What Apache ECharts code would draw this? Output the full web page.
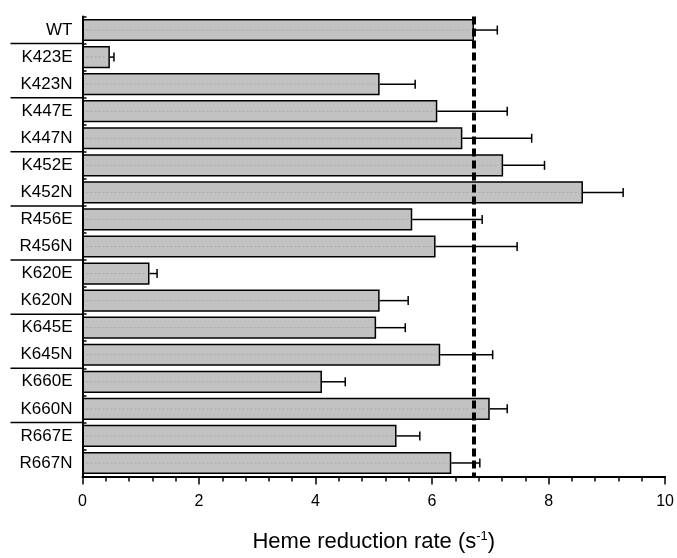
<!DOCTYPE html>
<html><head><meta charset="utf-8">
<script src="https://cdn.jsdelivr.net/npm/echarts@6/dist/echarts.min.js"></script>
<style>html,body{margin:0;padding:0;background:#fff}#c{width:677px;height:558px}</style>
</head><body><div id="c"></div>
<script>
const categories = ['WT','K423E','K423N','K447E','K447N','K452E','K452N','R456E','R456N','K620E','K620N','K645E','K645N','K660E','K660N','R667E','R667N'];
const values = [6.72,0.47,5.10,6.09,6.52,7.22,8.59,5.66,6.06,1.15,5.10,5.04,6.14,4.11,6.99,5.39,6.33];
const errors = [0.40,0.07,0.61,1.20,1.19,0.71,0.69,1.20,1.40,0.13,0.49,0.50,0.90,0.40,0.30,0.40,0.49];
const wtLine = 6.72;
const xTicks = [0,2,4,6,8,10];
</script>
<script>
const chart = echarts.init(document.getElementById('c'), null, {renderer:'canvas'});
const font = 'Liberation Sans, Arial, sans-serif';
const errData = values.map((v,i)=>[v,i,errors[i]]);
// group separators: before each category whose residue differs from the previous one
const sepData = [];
categories.forEach((c,i)=>{ if(i>0 && c.slice(0,4)!==categories[i-1].slice(0,4)) sepData.push([0,i]); });
chart.setOption({
  animation:false,
  grid:{left:82.5,right:10,top:16.5,bottom:74,containLabel:false},
  xAxis:{type:'value',min:xTicks[0],max:xTicks[xTicks.length-1],interval:xTicks[1]-xTicks[0],
    axisLine:{show:true,lineStyle:{color:'#000',width:2}},
    axisTick:{show:true,length:8,lineStyle:{color:'#000',width:1.5}},
    minorTick:{show:true,splitNumber:5,length:5,lineStyle:{color:'#000',width:1.5}},
    splitLine:{show:false},
    axisLabel:{color:'#000',fontSize:16,fontFamily:font,margin:17},
    name:'Heme reduction rate (s{sup|-1})',nameLocation:'middle',nameGap:53,
    nameTextStyle:{color:'#000',fontSize:22,fontFamily:font,
      rich:{sup:{fontSize:13,fontFamily:font,color:'#000',padding:[0,0,12,0]}}}
  },
  yAxis:{type:'category',data:categories,inverse:true,
    axisLine:{show:true,lineStyle:{color:'#000',width:2}},
    axisTick:{show:true,inside:true,length:4,lineStyle:{color:'#000',width:1.5}},
    axisLabel:{color:'#000',fontSize:17,fontFamily:font,margin:10}
  },
  series:[{type:'bar',data:values,barCategoryGap:'18%',
    itemStyle:{color:'#c2c2c2',borderColor:'#000',borderWidth:1.5},
    markLine:{silent:true,symbol:'none',label:{show:false},
      lineStyle:{color:'#000',width:4,type:[8,4]},data:[{xAxis:wtLine}]},
    z:2
  },{type:'custom',data:errData,z:3,
    renderItem:(params,api)=>{
      const v=api.value(0), c=api.value(1), e=api.value(2);
      const p0=api.coord([0,c]), p1=api.coord([v,c]), p2=api.coord([v+e,c]);
      return {type:'group',children:[
        {type:'line',shape:{x1:p0[0]+4,y1:p0[1],x2:p1[0]-4,y2:p1[1]},style:{stroke:'#a8a8a8',lineWidth:1,lineDash:[2,2]}},
        {type:'line',shape:{x1:p1[0],y1:p1[1],x2:p2[0],y2:p2[1]},style:{stroke:'#000',lineWidth:1.5}},
        {type:'line',shape:{x1:p2[0],y1:p2[1]-4.5,x2:p2[0],y2:p2[1]+4.5},style:{stroke:'#000',lineWidth:1.5}}
      ]};
    }
  },{type:'custom',data:sepData,z:4,clip:false,silent:true,
    renderItem:(params,api)=>{
      const p=api.coord([api.value(0),api.value(1)]);
      const half=api.size([0,1])[1]/2;
      const y=p[1]-half;
      return {type:'line',shape:{x1:p[0]-72,y1:y,x2:p[0],y2:y},style:{stroke:'#000',lineWidth:1.5}};
    }
  }]
});
</script>
</body></html>
